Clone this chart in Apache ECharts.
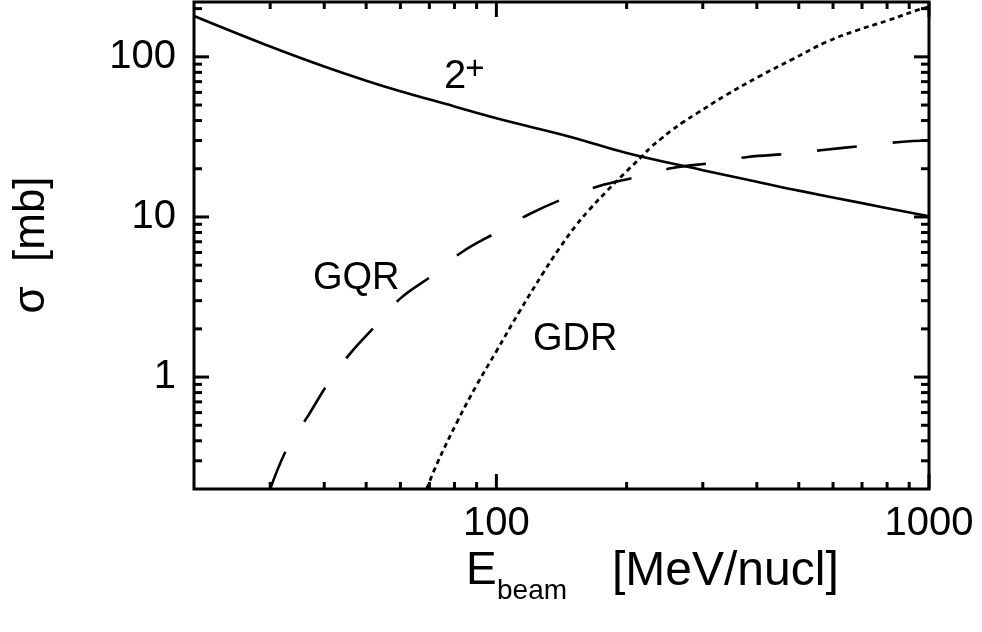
<!DOCTYPE html>
<html>
<head>
<meta charset="utf-8">
<script src="https://cdn.jsdelivr.net/npm/echarts@6/dist/echarts.min.js"></script>
<style>
  html, body { margin: 0; padding: 0; background: #fff; }
  #chart { width: 982px; height: 632px; }
</style>
</head>
<body>
<div id="chart"></div>
<script>
// Cross sections vs. beam energy (log-log)
const energy2plus = [20, 30, 40, 50, 60, 80, 100, 150, 200, 300, 400, 500, 700, 1000];
const sigma2plus  = [180, 116, 87, 71, 61, 49, 41.3, 31.4, 25.1, 19.6, 16.6, 14.6, 12.2, 10.1];

const energyGQR = [30, 33, 36.5, 41, 46, 53, 60, 71, 83, 100, 119, 144, 173, 212, 255, 316, 381, 474, 568, 704, 857, 1000];
const sigmaGQR  = [0.2, 0.37, 0.56, 0.93, 1.41, 2.14, 3.1, 4.3, 6.0, 8.0, 10.4, 13.1, 15.6, 17.8, 20.2, 21.8, 23.7, 24.8, 26.2, 27.8, 29.4, 30];

const energyGDR = [69, 73, 81, 90, 100, 113, 128, 140, 153, 164, 180, 198, 217, 228, 241, 254, 271, 290, 340, 406, 485, 580, 680, 805, 936, 1000];
const sigmaGDR  = [0.2, 0.29, 0.52, 0.89, 1.45, 2.56, 4.43, 6.4, 8.9, 11.1, 14.5, 18.8, 23.9, 27.4, 31, 34.7, 39.3, 44.2, 57.8, 75.7, 97, 124, 146, 169, 195, 205];

// Axis ticks (labelled majors, unlabelled minors)
const xMajorTicks = [100, 1000];
const xMinorTicks = [30, 40, 50, 60, 70, 80, 90, 200, 300, 400, 500, 600, 700, 800, 900];
const yMajorTicks = [1, 10, 100];
const yMinorTicks = [0.3, 0.4, 0.5, 0.6, 0.7, 0.8, 0.9, 2, 3, 4, 5, 6, 7, 8, 9, 20, 30, 40, 50, 60, 70, 80, 90, 200];

const FONT = '"Liberation Sans", Arial, Helvetica, sans-serif';

function zip(xs, ys) { return xs.map((x, i) => [x, ys[i]]); }

function majorLabel(list) {
  return function (v) {
    for (const t of list) {
      if (Math.abs(v - t) / t < 1e-6) return String(t);
    }
    return '';
  };
}

// tick rows: [x, y, kind (0 = x tick, 1 = y tick), major flag]
const tickRows = [];
xMinorTicks.forEach(v => tickRows.push([v, 1, 0, 0]));
xMajorTicks.forEach(v => tickRows.push([v, 1, 0, 1]));
yMinorTicks.forEach(v => tickRows.push([100, v, 1, 0]));
yMajorTicks.forEach(v => tickRows.push([100, v, 1, 1]));

// inward ticks mirrored on both sides of the frame
function renderTick(params, api) {
  const cs = params.coordSys;
  const major = api.value(3) === 1;
  const isY = api.value(2) === 1;
  const p = api.coord([api.value(0), api.value(1)]);
  let segs;
  if (!isY) {
    const len = major ? 15 : 7;
    const x = p[0];
    segs = [[x, cs.y + cs.height, x, cs.y + cs.height - len], [x, cs.y, x, cs.y + len]];
  } else {
    const len = major ? 15 : 8;
    const y = p[1];
    segs = [[cs.x, y, cs.x + len, y], [cs.x + cs.width, y, cs.x + cs.width - len, y]];
  }
  return {
    type: 'group',
    children: segs.map(s => ({
      type: 'line',
      shape: { x1: s[0], y1: s[1], x2: s[2], y2: s[3] },
      style: { stroke: '#000', lineWidth: 3 }
    }))
  };
}

const chart = echarts.init(document.getElementById('chart'), null, { renderer: 'canvas' });

chart.setOption({
  animation: false,
  backgroundColor: '#fff',
  grid: {
    left: 194, right: 53, top: 2, bottom: 143,
    show: true, borderColor: '#000', borderWidth: 3, backgroundColor: 'transparent'
  },
  xAxis: {
    type: 'log', logBase: 10, min: 20, max: 1000,
    axisLine: { show: false }, axisTick: { show: false }, splitLine: { show: false },
    axisLabel: { fontSize: 40, color: '#000', fontFamily: FONT, margin: 15, formatter: majorLabel(xMajorTicks) }
  },
  yAxis: {
    type: 'log', logBase: 10, min: 0.2, max: 220,
    axisLine: { show: false }, axisTick: { show: false }, splitLine: { show: false },
    axisLabel: { fontSize: 40, color: '#000', fontFamily: FONT, margin: 18, formatter: majorLabel(yMajorTicks) }
  },
  series: [
    {
      name: '2+', type: 'line', data: zip(energy2plus, sigma2plus),
      smooth: 0.4, showSymbol: false, clip: true,
      lineStyle: { color: '#000', width: 2.6, type: 'solid' }
    },
    {
      name: 'GQR', type: 'line', data: zip(energyGQR, sigmaGQR),
      smooth: 0.4, showSymbol: false, clip: true,
      lineStyle: { color: '#000', width: 2.6, type: [40, 36] }
    },
    {
      name: 'GDR', type: 'line', data: zip(energyGDR, sigmaGDR),
      smooth: 0.4, showSymbol: false, clip: true,
      lineStyle: { color: '#000', width: 2.8, type: [5, 4] }
    },
    {
      type: 'custom', data: tickRows, renderItem: renderTick,
      encode: { x: 0, y: 1 }, silent: true, z: 5
    }
  ],
  graphic: [
    // curve labels
    { type: 'text', left: 444, top: 57, style: { text: '2', font: '40px ' + FONT, fill: '#000' } },
    { type: 'text', x: 475, y: 70, style: { text: '+', font: '33px ' + FONT, fill: '#000', align: 'center', verticalAlign: 'middle' } },
    { type: 'text', x: 313, y: 279, style: { text: 'GQR', font: '38px ' + FONT, fill: '#000', align: 'left', verticalAlign: 'middle' } },
    { type: 'text', x: 533, y: 340, style: { text: 'GDR', font: '38px ' + FONT, fill: '#000', align: 'left', verticalAlign: 'middle' } },
    // y axis title
    { type: 'text', x: 32, y: 245, rotation: Math.PI / 2,
      style: { text: 'σ  [mb]', font: '44px ' + FONT, fill: '#000', align: 'center', verticalAlign: 'middle' } },
    // x axis title
    { type: 'text', x: 466, y: 571, style: { text: 'E', font: '46px ' + FONT, fill: '#000', align: 'left', verticalAlign: 'middle' } },
    { type: 'text', x: 497, y: 591, style: { text: 'beam', font: '28px ' + FONT, fill: '#000', align: 'left', verticalAlign: 'middle' } },
    { type: 'text', x: 612, y: 572, style: { text: '[MeV/nucl]', font: '48px ' + FONT, fill: '#000', align: 'left', verticalAlign: 'middle' } }
  ]
});
</script>
</body>
</html>
